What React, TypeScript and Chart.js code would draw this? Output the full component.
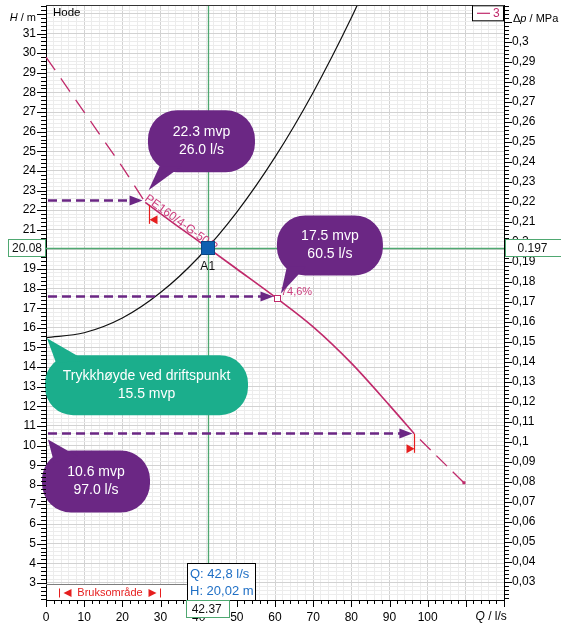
import React, { useEffect, useRef } from "react";
import { Chart, registerables } from "chart.js";

Chart.register(...registerables);

const CANVAS_W = 561;
const CANVAS_H = 626;

// ---- axis ranges and tick labels ----
const flowMin = 0;
const flowMax = 120;
const headMin = 2.13;
const headMax = 32.44;
const mpaPerMetre = 0.00981;
const flowTickLabels = [0, 10, 20, 30, 40, 50, 60, 70, 80, 90, 100];
const headTickLabels = [3, 4, 5, 6, 7, 8, 9, 10, 11, 12, 13, 14, 15, 16, 17, 18, 19, 20, 21, 22, 23, 24, 25, 26, 27, 28, 29, 30, 31];
const pressureTickLabels = [0.03, 0.04, 0.05, 0.06, 0.07, 0.08, 0.09, 0.1, 0.11, 0.12, 0.13, 0.14, 0.15, 0.16, 0.17, 0.18, 0.19, 0.2, 0.21, 0.22, 0.23, 0.24, 0.25, 0.26, 0.27, 0.28, 0.29, 0.3];

// ---- pump curve (PE160/4-G-50/2) ----
const pumpLeftQ = [0, 10, 20, 26];
const pumpLeftH = [29.8, 27.0, 24.2, 22.4];
const pumpMainQ = [26, 34, 42.4, 50, 60.5, 70, 80, 90, 96.5];
const pumpMainH = [22.4, 21.25, 20.08, 19.0, 17.5, 16.05, 14.2, 12.05, 10.6];
const pumpRightQ = [96.5, 109.5];
const pumpRightH = [10.6, 8.1];

// ---- system curve ----
const systemQ = [0, 10, 20, 30, 40, 50, 60, 70, 80, 84];
const systemH = [15.5, 15.75, 16.5, 17.8, 19.6, 21.9, 24.7, 28.0, 31.8, 33.5];

// ---- operating point / readouts ----
const operatingQ = 42.37;
const operatingH = 20.08;
const readoutLines = ["Q: 42,8 l/s", "H: 20,02 m"];
const pumpName = "PE160/4-G-50/2";
const efficiencyQ = 60.5;
const efficiencyH = 17.5;
const efficiencyLabel = "74,6%";

// ---- range markers ----
const rangeMarkerQ = [26.9, 96.5];
const rangeMarkerH = [22.27, 10.6];
const usageQ = [3.5, 29.9];

// ---- callouts ----
const arrowQ = [25.3, 59.6, 96.0];
const arrowH = [22.5, 17.6, 10.62];
const calloutHead = ["22.3 mvp", "17.5 mvp", "10.6 mvp"];
const calloutFlow = ["26.0 l/s", "60.5 l/s", "97.0 l/s"];
const staticHead = 15.5;
const staticLines = ["Trykkhøyde ved driftspunkt", "15.5 mvp"];

const FONT = "'Liberation Sans', Arial, Helvetica, sans-serif";
const PURPLE = "#6b2784";
const TEAL = "#1bae8c";
const MAGENTA = "#c02a6b";
const MAGENTA_TEXT = "#cc3d7e";
const GREEN = "#4fa871";
const RED = "#e61e1e";
const BLUE = "#0d5fb0";
const TIP_BLUE = "#1f6fc5";

const pts = (q: number[], h: number[]) => q.map((v, i) => ({ x: v, y: h[i] }));
const near = (a: number, b: number) => Math.abs(a - b) < 1e-6;

function tri(ctx: CanvasRenderingContext2D, x1: number, y1: number, x2: number, y2: number, x3: number, y3: number) {
  ctx.beginPath();
  ctx.moveTo(x1, y1);
  ctx.lineTo(x2, y2);
  ctx.lineTo(x3, y3);
  ctx.closePath();
  ctx.fill();
}

function roundBox(ctx: CanvasRenderingContext2D, x: number, y: number, w: number, h: number, r: number) {
  ctx.beginPath();
  ctx.moveTo(x + r, y);
  ctx.lineTo(x + w - r, y);
  ctx.arcTo(x + w, y, x + w, y + r, r);
  ctx.lineTo(x + w, y + h - r);
  ctx.arcTo(x + w, y + h, x + w - r, y + h, r);
  ctx.lineTo(x + r, y + h);
  ctx.arcTo(x, y + h, x, y + h - r, r);
  ctx.lineTo(x, y + r);
  ctx.arcTo(x, y, x + r, y, r);
  ctx.closePath();
}

function callout(
  ctx: CanvasRenderingContext2D,
  ax: number,
  ay: number,
  dx: number,
  dy: number,
  w: number,
  h: number,
  tail: number[][],
  color: string,
  lines: string[]
) {
  ctx.save();
  ctx.fillStyle = color;
  const x = ax + dx;
  const y = ay + dy;
  roundBox(ctx, x, y, w, h, h * 0.47);
  ctx.fill();
  tri(ctx, ax + tail[0][0], ay + tail[0][1], ax + tail[2][0], ay + tail[2][1], ax + tail[1][0], ay + tail[1][1]);
  ctx.fillStyle = "#ffffff";
  ctx.font = `14px ${FONT}`;
  ctx.textAlign = "center";
  ctx.textBaseline = "middle";
  ctx.fillText(lines[0], x + w / 2, y + h / 2 - 9);
  ctx.fillText(lines[1], x + w / 2, y + h / 2 + 9);
  ctx.restore();
}

function dashedArrow(ctx: CanvasRenderingContext2D, x0: number, x1: number, y: number) {
  ctx.save();
  ctx.strokeStyle = PURPLE;
  ctx.fillStyle = PURPLE;
  ctx.lineWidth = 2.6;
  ctx.setLineDash([9, 5]);
  ctx.beginPath();
  ctx.moveTo(x0, y);
  ctx.lineTo(x1 - 11, y);
  ctx.stroke();
  ctx.setLineDash([]);
  tri(ctx, x1, y, x1 - 13, y - 5, x1 - 13, y + 5);
  ctx.restore();
}

function textBox(ctx: CanvasRenderingContext2D, x: number, y: number, w: number, h: number, border: string, text: string, tx: number) {
  ctx.save();
  ctx.fillStyle = "#ffffff";
  ctx.fillRect(x, y, w, h);
  ctx.strokeStyle = border;
  ctx.lineWidth = 1;
  ctx.strokeRect(Math.round(x) + 0.5, Math.round(y) + 0.5, Math.round(w) - 1, Math.round(h) - 1);
  ctx.fillStyle = "#111";
  ctx.font = `12px ${FONT}`;
  ctx.textAlign = "center";
  ctx.textBaseline = "middle";
  ctx.fillText(text, tx, y + h / 2 + 0.5);
  ctx.restore();
}

const overlayPlugin = {
  id: "pumpOverlay",
  beforeDatasetsDraw(chart: any) {
    const { ctx, chartArea: a, scales } = chart;
    const X = scales.x;
    const Y = scales.y;
    const cx = X.getPixelForValue(operatingQ);
    const cy = Y.getPixelForValue(operatingH);
    ctx.save();
    // usage band
    const bandRight = cx - 21;
    const bandTop = Math.round(a.bottom - 16) + 0.5;
    ctx.fillStyle = "#ffffff";
    ctx.fillRect(a.left + 1, bandTop, bandRight - a.left - 1, a.bottom - bandTop);
    ctx.strokeStyle = "#7d7d7d";
    ctx.lineWidth = 1;
    ctx.beginPath();
    ctx.moveTo(a.left, bandTop);
    ctx.lineTo(bandRight, bandTop);
    ctx.stroke();
    const b0 = Math.round(X.getPixelForValue(usageQ[0])) + 0.5;
    const b1 = Math.round(X.getPixelForValue(usageQ[1])) + 0.5;
    const my = a.bottom - 7;
    ctx.strokeStyle = RED;
    ctx.fillStyle = RED;
    ctx.beginPath();
    ctx.moveTo(b0, my - 4.5);
    ctx.lineTo(b0, my + 4.5);
    ctx.moveTo(b1, my - 4.5);
    ctx.lineTo(b1, my + 4.5);
    ctx.stroke();
    tri(ctx, b0 + 4, my, b0 + 12, my - 4, b0 + 12, my + 4);
    tri(ctx, b1 - 4, my, b1 - 12, my - 4, b1 - 12, my + 4);
    ctx.font = `11px ${FONT}`;
    ctx.textAlign = "center";
    ctx.textBaseline = "middle";
    ctx.fillText("Bruksområde", (b0 + b1) / 2, my);
    // crosshair
    ctx.strokeStyle = GREEN;
    ctx.lineWidth = 1.3;
    ctx.beginPath();
    ctx.moveTo(Math.round(cx) + 0.5, a.top);
    ctx.lineTo(Math.round(cx) + 0.5, a.bottom);
    ctx.moveTo(a.left, Math.round(cy) + 0.5);
    ctx.lineTo(a.right, Math.round(cy) + 0.5);
    ctx.stroke();
    ctx.restore();
  },
  afterDatasetsDraw(chart: any) {
    const { ctx, chartArea: a, scales } = chart;
    const X = scales.x;
    const Y = scales.y;
    const px = (q: number) => X.getPixelForValue(q);
    const py = (h: number) => Y.getPixelForValue(h);
    ctx.save();

    // dashed arrows from the head axis
    for (let i = 0; i < arrowQ.length; i++) {
      dashedArrow(ctx, a.left + 2, px(arrowQ[i]), Math.round(py(arrowH[i])) + 0.5);
    }

    // range markers
    ctx.strokeStyle = RED;
    ctx.fillStyle = RED;
    ctx.lineWidth = 1.2;
    rangeMarkerQ.forEach((q, i) => {
      const lx = Math.round(px(q)) + 0.5;
      const top = py(rangeMarkerH[i]);
      ctx.beginPath();
      ctx.moveTo(lx, top);
      ctx.lineTo(lx, top + 19);
      ctx.stroke();
      const c = top + 15;
      if (i === 0) tri(ctx, lx, c, lx + 8, c - 4.5, lx + 8, c + 4.5);
      else tri(ctx, lx, c, lx - 8, c - 4.5, lx - 8, c + 4.5);
    });

    // pump name along curve
    const p0x = px(pumpMainQ[0]);
    const p0y = py(pumpMainH[0]);
    const p2x = px(pumpMainQ[2]);
    const p2y = py(pumpMainH[2]);
    const ang = Math.atan2(p2y - p0y, p2x - p0x);
    ctx.save();
    ctx.translate(px(arrowQ[0]), py(arrowH[0]));
    ctx.rotate(ang);
    ctx.fillStyle = MAGENTA_TEXT;
    ctx.font = `12px ${FONT}`;
    ctx.textAlign = "left";
    ctx.textBaseline = "alphabetic";
    ctx.fillText(pumpName, 1, -1);
    ctx.restore();

    // efficiency marker
    const ex = px(efficiencyQ);
    const ey = py(efficiencyH);
    ctx.fillStyle = MAGENTA_TEXT;
    ctx.font = `11px ${FONT}`;
    ctx.textAlign = "left";
    ctx.textBaseline = "middle";
    ctx.fillText(efficiencyLabel, ex + 4, ey - 6);
    ctx.fillStyle = "#ffffff";
    ctx.fillRect(Math.round(ex) - 3, Math.round(ey) - 3, 6, 6);
    ctx.strokeStyle = MAGENTA;
    ctx.lineWidth = 1;
    ctx.strokeRect(Math.round(ex) - 2.5, Math.round(ey) - 2.5, 6, 6);

    // callouts
    const a1x = px(arrowQ[0]);
    const a1y = py(arrowH[0]);
    callout(ctx, a1x, a1y, 5.4, -90, 107, 62, [[17, -34], [39, -34], [6, -10]], PURPLE, [calloutHead[0], calloutFlow[0]]);
    callout(ctx, ex, ey, 0, -83, 106, 60, [[10, -32], [29, -32], [4, -5]], PURPLE, [calloutHead[1], calloutFlow[1]]);
    const a3x = px(0);
    const a3y = py(arrowH[2]);
    callout(ctx, a3x, a3y, -4, 17, 108, 62, [[8, 29], [32, 23], [2, 6]], PURPLE, [calloutHead[2], calloutFlow[2]]);
    const s0x = px(0);
    const s0y = py(staticHead);
    callout(ctx, s0x, s0y, -1, 17.5, 203, 60, [[10, 25], [40, 23], [1, 0.5]], TEAL, staticLines);

    // operating point
    const cx = px(operatingQ);
    const cy = py(operatingH);
    ctx.fillStyle = BLUE;
    ctx.fillRect(Math.round(cx) - 7, Math.round(cy) - 7, 14, 14);
    ctx.strokeStyle = "#0a4687";
    ctx.lineWidth = 1;
    ctx.strokeRect(Math.round(cx) - 6.5, Math.round(cy) - 6.5, 13, 13);
    ctx.fillStyle = "#111";
    ctx.font = `12px ${FONT}`;
    ctx.textAlign = "center";
    ctx.textBaseline = "middle";
    ctx.fillText("A1", cx, cy + 19);
    ctx.restore();
  },
  afterDraw(chart: any) {
    const { ctx, chartArea: a, scales } = chart;
    const X = scales.x;
    const Y = scales.y;
    const Y2 = scales.y2;
    ctx.save();
    // tick marks
    ctx.strokeStyle = "#000";
    ctx.lineWidth = 1;
    ctx.beginPath();
    for (let i = Math.ceil(flowMin / 2); i <= Math.floor(flowMax / 2); i++) {
      const q = i * 2;
      const x = Math.round(X.getPixelForValue(q)) + 0.5;
      const len = q % 10 === 0 ? 7 : 4;
      ctx.moveTo(x, a.bottom);
      ctx.lineTo(x, a.bottom + len);
    }
    for (let i = Math.ceil(headMin * 5); i <= Math.floor(headMax * 5); i++) {
      const y = Math.round(Y.getPixelForValue(i / 5)) + 0.5;
      const len = i % 5 === 0 ? 9 : 5;
      ctx.moveTo(a.left - len, y);
      ctx.lineTo(a.left, y);
    }
    for (let i = Math.ceil(Y2.min * 500); i <= Math.floor(Y2.max * 500); i++) {
      const y = Math.round(Y2.getPixelForValue(i / 500)) + 0.5;
      const len = i % 5 === 0 ? 8 : 5;
      ctx.moveTo(a.right, y);
      ctx.lineTo(a.right + len, y);
    }
    ctx.stroke();
    // top frame
    ctx.strokeStyle = "#333";
    ctx.beginPath();
    ctx.moveTo(a.left, Math.round(a.top) + 0.5);
    ctx.lineTo(a.right, Math.round(a.top) + 0.5);
    ctx.stroke();

    // axis titles
    ctx.fillStyle = "#000";
    ctx.textBaseline = "middle";
    ctx.textAlign = "left";
    const fN = `11px ${FONT}`;
    const fI = `italic 11px ${FONT}`;
    ctx.font = fI;
    const wH = ctx.measureText("H").width;
    ctx.font = fN;
    const wHr = ctx.measureText(" / m").width;
    let sx = a.left - 10 - wH - wHr;
    ctx.font = fI;
    ctx.fillText("H", sx, a.top + 13);
    ctx.font = fN;
    ctx.fillText(" / m", sx + wH, a.top + 13);

    sx = a.right + 9;
    ctx.font = fN;
    ctx.fillText("Δ", sx, a.top + 14);
    sx += ctx.measureText("Δ").width;
    ctx.font = fI;
    ctx.fillText("p", sx, a.top + 14);
    sx += ctx.measureText("p").width;
    ctx.font = fN;
    ctx.fillText(" / MPa", sx, a.top + 14);

    const fN12 = `12px ${FONT}`;
    const fI12 = `italic 12px ${FONT}`;
    sx = X.getPixelForValue(112) + 2;
    ctx.font = fI12;
    ctx.fillText("Q", sx, a.bottom + 17);
    sx += ctx.measureText("Q").width;
    ctx.font = fN12;
    ctx.fillText(" / l/s", sx, a.bottom + 17);

    // "Hode" label
    ctx.font = `11.5px ${FONT}`;
    ctx.fillText("Hode", a.left + 7, a.top + 8);

    // legend box
    ctx.fillStyle = "#fff";
    ctx.fillRect(a.right - 31, a.top, 31, 15);
    ctx.strokeStyle = "#000";
    ctx.strokeRect(a.right - 31.5, a.top + 0.5, 31, 15);
    ctx.strokeStyle = MAGENTA;
    ctx.lineWidth = 1.2;
    ctx.beginPath();
    ctx.moveTo(a.right - 27, a.top + 8);
    ctx.lineTo(a.right - 14, a.top + 8);
    ctx.stroke();
    ctx.fillStyle = MAGENTA;
    ctx.font = `12px ${FONT}`;
    ctx.fillText("3", a.right - 11, a.top + 8.5);

    // readout boxes
    const cx = X.getPixelForValue(operatingQ);
    const cy = Y.getPixelForValue(operatingH);
    textBox(ctx, 8, Math.round(cy) - 9, a.left - 8, 18, GREEN, operatingH.toFixed(2), (8 + a.left) / 2);
    textBox(ctx, a.right + 1, Math.round(cy) - 9, CANVAS_W - a.right, 18, GREEN, (operatingH * mpaPerMetre).toFixed(3), a.right + 28.5);
    // tooltip
    const tx = Math.round(cx) - 21;
    const ty = Math.round(a.bottom) - 37;
    ctx.fillStyle = "#fff";
    ctx.fillRect(tx, ty, 69, 37);
    ctx.strokeStyle = "#000";
    ctx.lineWidth = 1;
    ctx.strokeRect(tx + 0.5, ty + 0.5, 68, 37);
    ctx.fillStyle = TIP_BLUE;
    ctx.font = `13px ${FONT}`;
    ctx.textAlign = "left";
    ctx.textBaseline = "middle";
    ctx.fillText(readoutLines[0], tx + 3, ty + 11);
    ctx.fillText(readoutLines[1], tx + 3, ty + 28);
    textBox(ctx, Math.round(cx) - 22, a.bottom, 44, 18, GREEN, operatingQ.toFixed(2), cx - 1);
    ctx.restore();
  },
};

function gridColor(ctx: any, majorEvery: number) {
  const v = ctx.tick ? ctx.tick.value : 0;
  const r = Math.round(v / majorEvery) * majorEvery;
  return near(v, r) ? "#d2d2d2" : "#ececec";
}

export default function App() {
  const ref = useRef<HTMLCanvasElement>(null);
  useEffect(() => {
    if (!ref.current) return;
    const chart = new Chart(ref.current, {
      type: "scatter",
      data: {
        datasets: [
          {
            label: "system",
            data: pts(systemQ, systemH),
            showLine: true,
            borderColor: "#111",
            borderWidth: 1.2,
            pointRadius: 0,
            cubicInterpolationMode: "monotone",
            yAxisID: "y",
          },
          {
            label: "pump-left",
            data: pts(pumpLeftQ, pumpLeftH),
            showLine: true,
            borderColor: MAGENTA,
            borderWidth: 1.3,
            borderDash: [16, 10],
            pointRadius: 0,
            yAxisID: "y",
          },
          {
            label: "pump",
            data: pts(pumpMainQ, pumpMainH),
            showLine: true,
            borderColor: MAGENTA,
            borderWidth: 1.6,
            pointRadius: 0,
            cubicInterpolationMode: "monotone",
            yAxisID: "y",
          },
          {
            label: "pump-right",
            data: pts(pumpRightQ, pumpRightH),
            showLine: true,
            borderColor: MAGENTA,
            borderWidth: 1.3,
            borderDash: [15, 8],
            borderDashOffset: 15,
            pointRadius: [0, 1.2],
            pointStyle: "rect",
            pointBackgroundColor: MAGENTA,
            pointBorderColor: MAGENTA,
            yAxisID: "y",
          },
        ] as any,
      },
      plugins: [overlayPlugin],
      options: {
        responsive: false,
        devicePixelRatio: 1,
        animation: false,
        events: [],
        layout: { padding: { top: 5, left: 0, right: 0, bottom: 0 } },
        plugins: { legend: { display: false }, tooltip: { enabled: false }, title: { display: false } },
        scales: {
          x: {
            type: "linear",
            position: "bottom",
            min: flowMin,
            max: flowMax,
            afterFit: (s: any) => {
              s.height = 26;
              s.paddingLeft = 0;
              s.paddingRight = 0;
            },
            grid: { color: (c: any) => gridColor(c, 10), lineWidth: 1, drawTicks: false },
            border: { display: true, color: "#000", width: 1 },
            ticks: {
              stepSize: 2,
              autoSkip: false,
              maxRotation: 0,
              padding: 10,
              color: "#000",
              font: { family: FONT, size: 12 },
              callback: (v: any) => {
                const f = flowTickLabels.find((t) => near(t, Number(v)));
                return f === undefined ? "" : String(f);
              },
            },
          },
          y: {
            type: "linear",
            position: "left",
            min: headMin,
            max: headMax,
            afterFit: (s: any) => {
              s.width = 46;
              s.paddingTop = 0;
              s.paddingBottom = 0;
            },
            grid: { color: (c: any) => gridColor(c, 1), lineWidth: 1, drawTicks: false },
            border: { display: true, color: "#000", width: 1 },
            ticks: {
              stepSize: 0.2,
              autoSkip: false,
              padding: 10,
              color: "#000",
              font: { family: FONT, size: 12 },
              callback: (v: any) => {
                const f = headTickLabels.find((t) => near(t, Number(v)));
                return f === undefined ? "" : String(f);
              },
            },
          },
          y2: {
            type: "linear",
            position: "right",
            min: headMin * mpaPerMetre,
            max: headMax * mpaPerMetre,
            afterFit: (s: any) => {
              s.width = 57;
              s.paddingTop = 0;
              s.paddingBottom = 0;
            },
            grid: { drawOnChartArea: false, drawTicks: false },
            border: { display: true, color: "#000", width: 1 },
            ticks: {
              stepSize: 0.002,
              autoSkip: false,
              padding: 8,
              color: "#000",
              font: { family: FONT, size: 12 },
              callback: (v: any) => {
                const f = pressureTickLabels.find((t) => near(t, Number(v)));
                return f === undefined ? "" : String(f).replace(".", ",");
              },
            },
          },
        },
      } as any,
    });
    return () => chart.destroy();
  }, []);
  return (
    <div style={{ position: "fixed", left: 0, top: 0, width: CANVAS_W, height: CANVAS_H, background: "#fff" }}>
      <canvas ref={ref} width={CANVAS_W} height={CANVAS_H} style={{ width: CANVAS_W, height: CANVAS_H, display: "block" }} />
    </div>
  );
}
